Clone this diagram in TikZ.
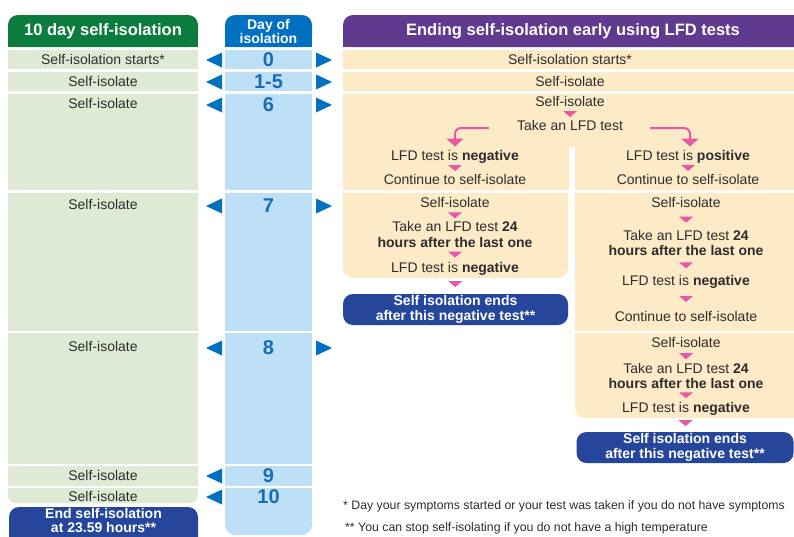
\documentclass[tikz,border=0pt]{standalone}
\usepackage{fontspec}
\setmainfont{Liberation Sans}
\usetikzlibrary{calc}
\usetikzlibrary{arrows.meta}
\usepackage{xcolor}
\definecolor{hdgreen}{RGB}{12,124,62}
\definecolor{rowgreen}{RGB}{222,234,211}
\definecolor{hdblue}{RGB}{0,112,192}
\definecolor{rowblue}{RGB}{189,224,247}
\definecolor{numblue}{RGB}{26,108,180}
\definecolor{hdpurple}{RGB}{96,58,142}
\definecolor{peach}{RGB}{253,234,198}
\definecolor{boxblue}{RGB}{37,70,155}
\definecolor{lfdpink}{RGB}{233,88,163}
\definecolor{txtgray}{RGB}{45,45,45}

\begin{document}
\begin{tikzpicture}[x=1pt,y=-1pt,
 txt/.style={text=txtgray, inner sep=0, font=\fontsize{14}{16}\selectfont, text height=11pt, text depth=1.5pt},
 txttwo/.style={text=txtgray, inner sep=0, align=center, font=\fontsize{14}{15.5}\selectfont},
 hd/.style={text=white, inner sep=0, align=center, font=\bfseries\fontsize{16.5}{18}\selectfont},
 daynum/.style={text=numblue, inner sep=0, font=\bfseries\fontsize{20}{20}\selectfont},
 endtxt/.style={text=white, inner sep=0, align=center, font=\bfseries\fontsize{14}{14.5}\selectfont},
 endbox/.style={endtxt, fill=boxblue, rounded corners=10pt, minimum height=31pt},
 pinkline/.style={lfdpink, line width=2pt, rounded corners=6pt, -{Triangle[width=17pt,length=8pt]}},
 note/.style={text=txtgray, anchor=west, inner sep=0, font=\fontsize{12.3}{14}\selectfont}]
\useasboundingbox (0,0) rectangle (794,536);
% headers
\fill[hdgreen, rounded corners=10pt] (8,15) rectangle (198,47);
\fill[hdgreen] (8,30) rectangle (198,47);
\fill[hdblue, rounded corners=10pt] (225,15) rectangle (312,47);
\fill[hdblue] (225,30) rectangle (312,47);
\fill[hdpurple, rounded corners=10pt] (343,15) rectangle (820,47);
\fill[hdpurple] (343,30) rectangle (820,47);
\node[hd] (hgreen) at (103,31) {10 day self-isolation};
\node[hd, font=\bfseries\fontsize{14}{13}\selectfont] (hday) at (268.5,31.5) {Day of\\isolation};
\node[hd] (hlfd) at (573,31) {Ending self-isolation early using LFD tests};
% rows of the two left columns
\foreach \a/\b in {50/69,72/91,94/190,193/331,333/464,466/486} {
 \fill[rowgreen] (8,\a) rectangle (198,\b);
 \fill[rowblue] (225,\a) rectangle (312,\b);
}
\fill[rowgreen, rounded corners=8pt] (8,488) rectangle (198,503);
\fill[rowgreen] (8,488) rectangle (198,495);
\fill[rowblue, rounded corners=10pt] (225,488) rectangle (312,535);
\fill[rowblue] (225,488) rectangle (312,510);
\fill[boxblue, rounded corners=10pt] (9,507) rectangle (198,552);
\node[endtxt, font=\bfseries\fontsize{14}{13.5}\selectfont] (endten) at (103.5,520.5) {End self-isolation\\at 23.59 hours**};
\foreach \t/\y [count=\i] in {Self-isolation starts*/60, Self-isolate/82, Self-isolate/104, Self-isolate/205, Self-isolate/347, Self-isolate/476, Self-isolate/497}
 \node[txt] (green\i) at (103,\y) {\t};
\foreach \d/\y [count=\i] in {0/60, 1-5/82, 6/105, 7/206, 8/348, 9/476, 10/497} {
 \node[daynum] (day\i) at (268.5,\y) {\d};
 \fill[hdblue] (222,\y-7.5) -- (206,\y) -- (222,\y+7.5) -- cycle;
}
\foreach \y in {60,82,105,206,348}
 \fill[hdblue] (316,\y-7.5) -- (332,\y) -- (316,\y+7.5) -- cycle;
% LFD column
\fill[peach] (343,50) rectangle (820,69);
\fill[peach] (343,72) rectangle (820,91);
\fill[peach] (343,94) -- (820,94) -- (820,190) -- (575,190) -- (575,147) -- (569,147) -- (569,190) -- (343,190) -- cycle;
\fill[peach, rounded corners=10pt] (343,193) rectangle (568,278);
\fill[peach] (343,193) rectangle (568,260);
\fill[peach] (575,193) rectangle (820,331);
\fill[peach, rounded corners=10pt] (575,333) rectangle (820,418);
\fill[peach] (575,333) rectangle (820,400);
\node[txt] (start0) at (570,60) {Self-isolation starts*};
\node[txt] (iso1) at (570,82) {Self-isolate};
\node[txt] (iso6) at (570,102) {Self-isolate};
\node[txt] (take6) at (570,126) {Take an LFD test};
\node[txt] (neg6) at (455,156) {LFD test is \textbf{negative}};
\node[txt] (contneg6) at (455,180) {Continue to self-isolate};
\node[txt] (pos6) at (688,156) {LFD test is \textbf{positive}};
\node[txt] (contpos6) at (688,180) {Continue to self-isolate};
\node[txt] (isoneg7) at (455,203) {Self-isolate};
\node[txttwo] (takeneg7) at (455,234.5) {Take an LFD test \textbf{24}\\\textbf{hours after the last one}};
\node[txt] (negneg7) at (455,268) {LFD test is \textbf{negative}};
\node[endbox, minimum width=225pt] (endneg7) at (455.5,309.5) {Self isolation ends\\after this negative test**};
\node[txt] (isopos7) at (686,203) {Self-isolate};
\node[txttwo] (takepos7) at (686,243) {Take an LFD test \textbf{24}\\\textbf{hours after the last one}};
\node[txt] (negpos7) at (686,281) {LFD test is \textbf{negative}};
\node[txt] (contpos7) at (686,317) {Continue to self-isolate};
\node[txt] (isopos8) at (686,343) {Self-isolate};
\node[txttwo] (takepos8) at (686,376) {Take an LFD test \textbf{24}\\\textbf{hours after the last one}};
\node[txt] (negpos8) at (686,408) {LFD test is \textbf{negative}};
\node[endbox, minimum width=217pt] (endpos8) at (685,447.5) {Self isolation ends\\after this negative test**};
% pink pointers
\draw[pinkline] ([xshift=-28pt,yshift=-2pt]take6.west) -| ([yshift=3pt]neg6.north);
\draw[pinkline] ([xshift=27pt,yshift=-2pt]take6.east) -| ([xshift=2pt,yshift=3pt]pos6.north);
\foreach \a/\b in {iso6/take6, neg6/contneg6, pos6/contpos6, isoneg7/takeneg7, takeneg7/negneg7, negneg7/endneg7, isopos7/takepos7, takepos7/negpos7, negpos7/contpos7, isopos8/takepos8, takepos8/negpos8, negpos8/endpos8}
 \fill[lfdpink] ($(\a.south)!.5!(\b.north)$) ++(-7,-3) -- ++(14,0) -- ++(-7,6) -- cycle;
% footnotes
\node[note] (note1) at (343,506) {* Day your symptoms started or your test was taken if you do not have symptoms};
\node[note] (note2) at (345,528) {** You can stop self-isolating if you do not have a high temperature};
\end{tikzpicture}
\end{document}
